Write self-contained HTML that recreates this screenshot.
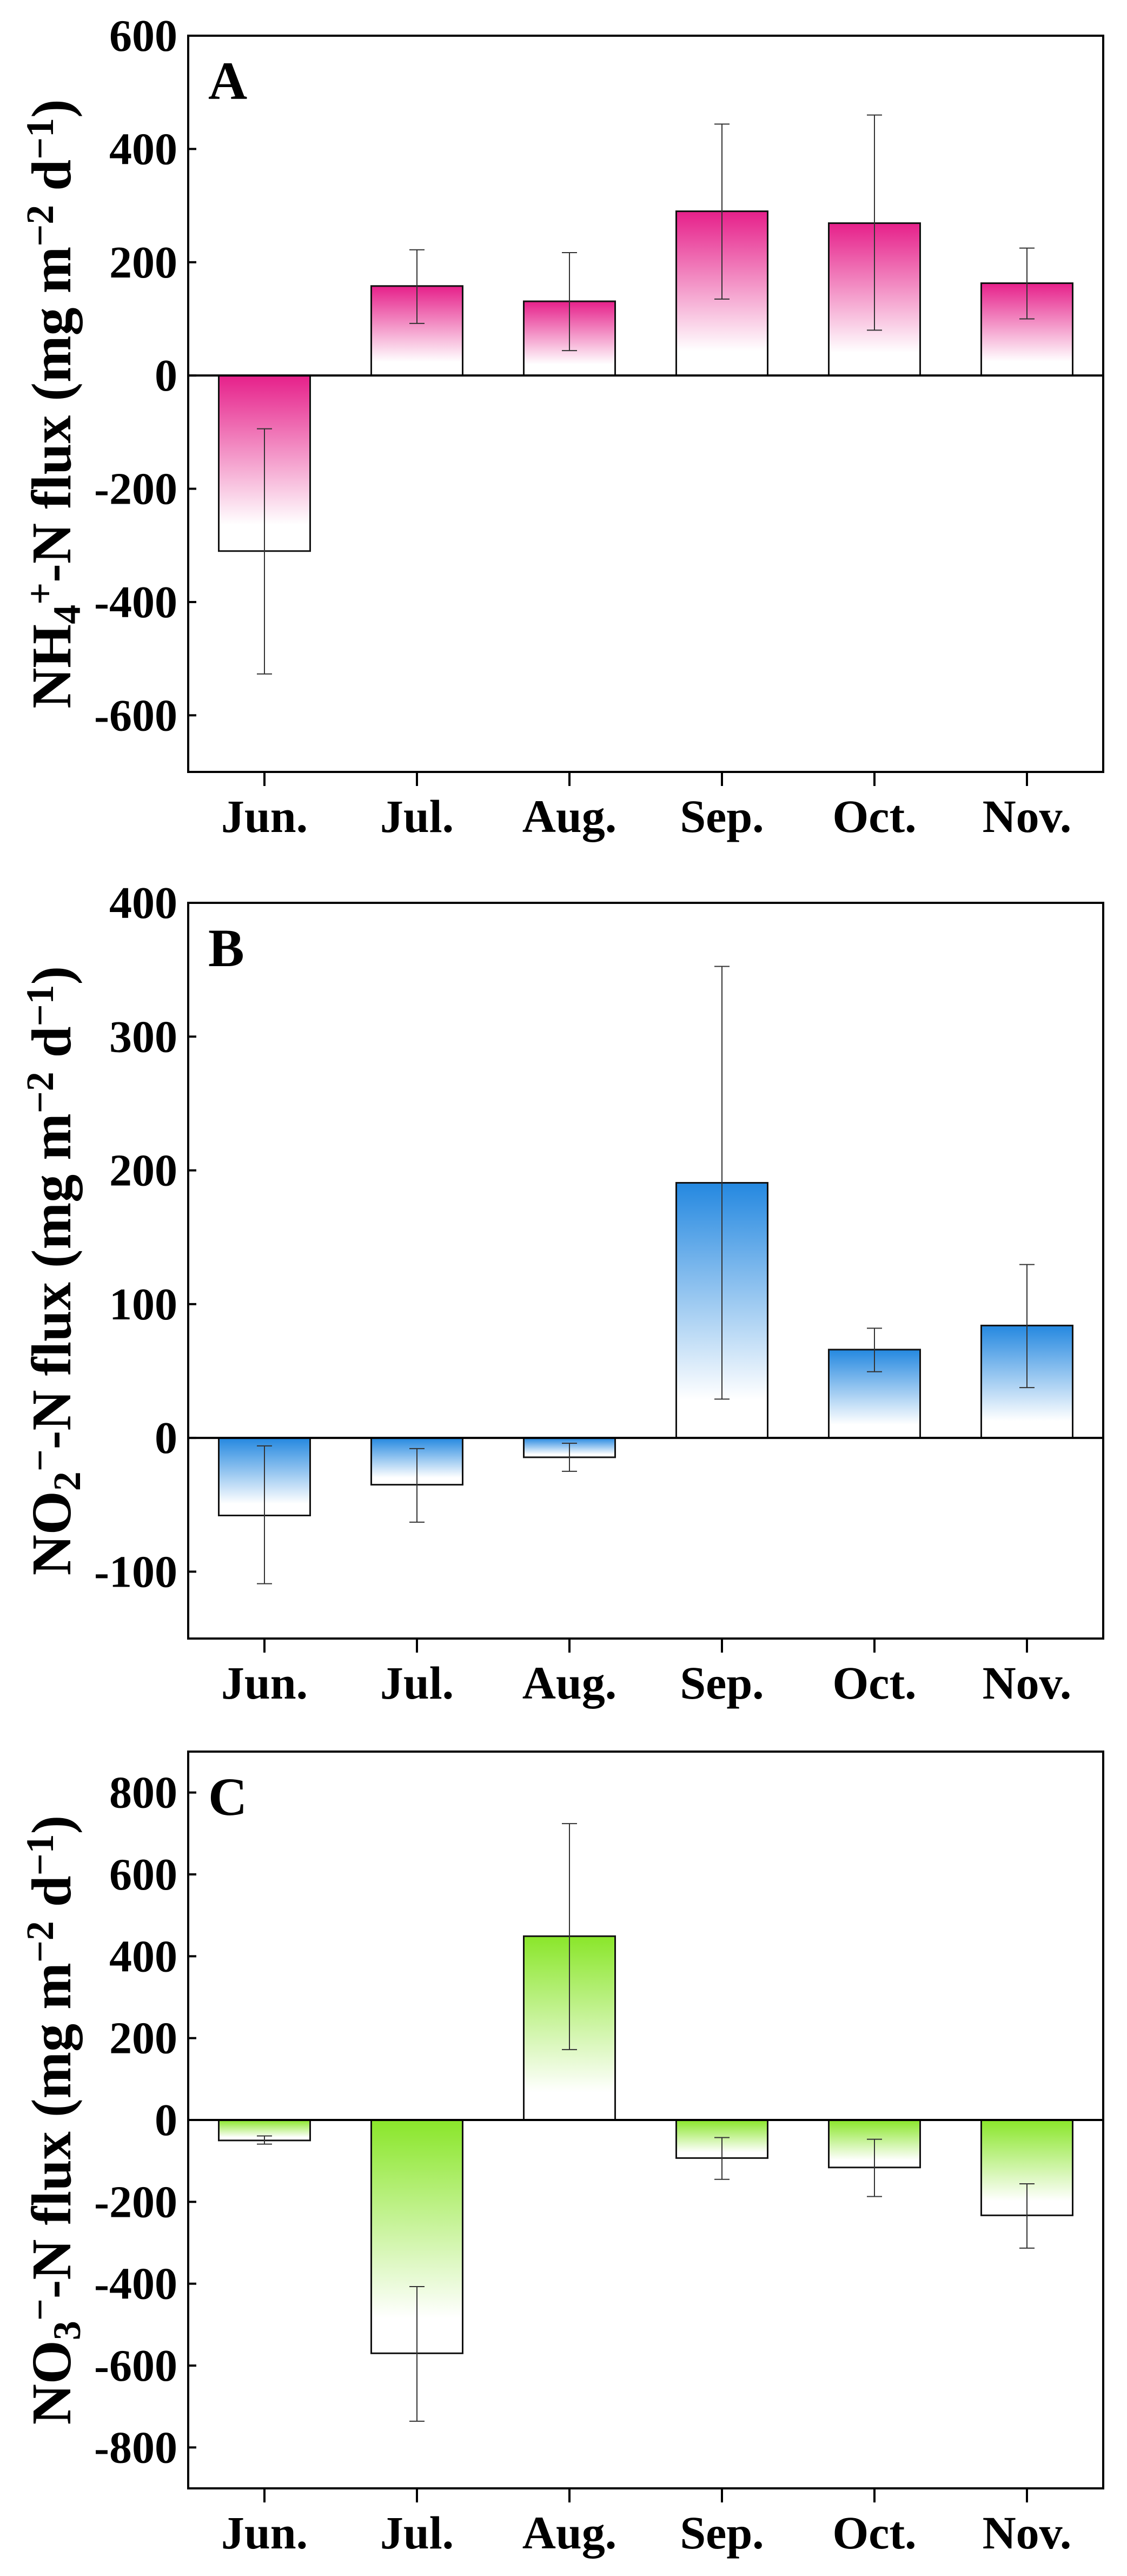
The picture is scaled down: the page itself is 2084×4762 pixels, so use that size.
<!DOCTYPE html>
<html><head><meta charset="utf-8"><style>
html,body{margin:0;padding:0;background:#fff;}
svg{display:block;}
text{font-family:"Liberation Serif",serif;font-weight:bold;fill:#000;}
</style></head>
<body>
<svg id="fig" width="2084" height="4762" viewBox="0 0 2084 4762" xmlns="http://www.w3.org/2000/svg">
<defs>
<linearGradient id="gA" x1="0" y1="0" x2="0" y2="1"><stop offset="0" stop-color="#e6208a"/><stop offset="0.85" stop-color="#ffffff"/></linearGradient>
<linearGradient id="gB" x1="0" y1="0" x2="0" y2="1"><stop offset="0" stop-color="#2488e0"/><stop offset="0.85" stop-color="#ffffff"/></linearGradient>
<linearGradient id="gC" x1="0" y1="0" x2="0" y2="1"><stop offset="0" stop-color="#8ae62a"/><stop offset="0.85" stop-color="#ffffff"/></linearGradient>
</defs>
</svg>
<script>
const months = ["Jun.","Jul.","Aug.","Sep.","Oct.","Nov."];
const nh4Values = [-310, 158, 131, 290, 269, 163];
const nh4Upper = [-94, 222, 217, 444, 460, 225];
const nh4Lower = [-527, 92, 44, 135, 80, 100];
const nh4Ticks = [600, 400, 200, 0, -200, -400, -600];
const no2Values = [-58, -35, -14.5, 190.7, 66, 84];
const no2Upper = [-6, -8, -4, 352.5, 82, 129.6];
const no2Lower = [-109, -63, -25, 29, 49.5, 37.6];
const no2Ticks = [400, 300, 200, 100, 0, -100];
const no3Values = [-50, -570, 449, -93, -116, -233];
const no3Upper = [-39, -407, 724, -43, -47, -156];
const no3Lower = [-59, -736, 172, -145, -187, -313];
const no3Ticks = [800, 600, 400, 200, 0, -200, -400, -600, -800];

const NS = "http://www.w3.org/2000/svg";
const svg = document.getElementById("fig");
function mk(tag, attrs, parent){
  const e = document.createElementNS(NS, tag);
  for (const k in attrs) e.setAttribute(k, attrs[k]);
  (parent || svg).appendChild(e);
  return e;
}

function panel(cfg){
  const L = 348, R = 2040, T = cfg.top, B = cfg.bottom;
  const g = mk("g", {});
  
  
  const y = v => T + (cfg.max - v) / (cfg.max - cfg.min) * (B - T);
  const band = (R - L) / months.length;
  const x = i => L + band * (i + 0.5);
  const bw = 169;
  // bars
  cfg.values.forEach((v, i) => {
    const y0 = y(0), y1 = y(v);
    const r = mk("rect", {x: x(i) - bw/2, y: Math.min(y0, y1), width: bw, height: Math.abs(y1 - y0),
      fill: "url(#" + cfg.grad + ")", stroke: "#111", "stroke-width": 3}, g);
    
    
  });
  // error bars
  cfg.values.forEach((v, i) => {
    const eg = mk("g", {stroke: "#333", "stroke-width": 2}, g);
    
    
    const cx = x(i), yu = y(cfg.upper[i]), yl = y(cfg.lower[i]);
    mk("line", {x1: cx, x2: cx, y1: yu, y2: yl}, eg);
    mk("line", {x1: cx - 14, x2: cx + 14, y1: yu, y2: yu}, eg);
    mk("line", {x1: cx - 14, x2: cx + 14, y1: yl, y2: yl}, eg);
  });
  // zero line
  const z = mk("line", {x1: L, x2: R, y1: y(0), y2: y(0), stroke: "#000", "stroke-width": 4}, g);
  
  
  // frame
  const f = mk("rect", {x: L, y: T, width: R - L, height: B - T, fill: "none", stroke: "#000", "stroke-width": 4}, g);
  
  
  // y ticks
  cfg.ticks.forEach(t => {
    const ty = y(t);
    mk("line", {x1: L, x2: L + 15, y1: ty, y2: ty, stroke: "#000", "stroke-width": 4}, g);
    const tl = mk("text", {x: 328, y: ty + 28, "text-anchor": "end", "font-size": 84}, g);
    tl.textContent = String(t);
    
    
  });
  // x ticks
  months.forEach((m, i) => {
    mk("line", {x1: x(i), x2: x(i), y1: B, y2: B + 26, stroke: "#000", "stroke-width": 4}, g);
    const xl = mk("text", {x: x(i), y: B + 111, "text-anchor": "middle", "font-size": 86}, g);
    xl.textContent = m;
    
    
  });
  // panel letter
  const pl = mk("text", {x: 385, y: T + 117, "font-size": 100}, g);
  pl.textContent = cfg.letter;
  
  
  // y title
  const cy = (T + B) / 2;
  const yt = mk("text", {x: 0, y: 0, "text-anchor": "middle", "font-size": 104,
    transform: "translate(130," + cy + ") rotate(-90)"}, g);
  
  
  cfg.title.forEach(p => {
    const ts = mk("tspan", {}, yt);
    if (p[1] === "sub") { ts.setAttribute("baseline-shift", "-25%"); ts.setAttribute("font-size", 72); }
    if (p[1] === "sup") { ts.setAttribute("baseline-shift", "45%"); ts.setAttribute("font-size", 72); }
    ts.textContent = p[0];
  });
}

panel({name: "panel-a-nh4", letter: "A", top: 66, bottom: 1427, max: 600, min: -700,
  values: nh4Values, upper: nh4Upper, lower: nh4Lower, ticks: nh4Ticks, grad: "gA",
  title: [["NH",""],["4","sub"],["+","sup"],["-N flux (mg m",""],["\u22122","sup"],[" d",""],["\u22121","sup"],[")",""]]});
panel({name: "panel-b-no2", letter: "B", top: 1669, bottom: 3029, max: 400, min: -150,
  values: no2Values, upper: no2Upper, lower: no2Lower, ticks: no2Ticks, grad: "gB",
  title: [["NO",""],["2","sub"],["\u2212","sup"],["-N flux (mg m",""],["\u22122","sup"],[" d",""],["\u22121","sup"],[")",""]]});
panel({name: "panel-c-no3", letter: "C", top: 3238, bottom: 4600, max: 900, min: -900,
  values: no3Values, upper: no3Upper, lower: no3Lower, ticks: no3Ticks, grad: "gC",
  title: [["NO",""],["3","sub"],["\u2212","sup"],["-N flux (mg m",""],["\u22122","sup"],[" d",""],["\u22121","sup"],[")",""]]});
</script>
</body></html>
